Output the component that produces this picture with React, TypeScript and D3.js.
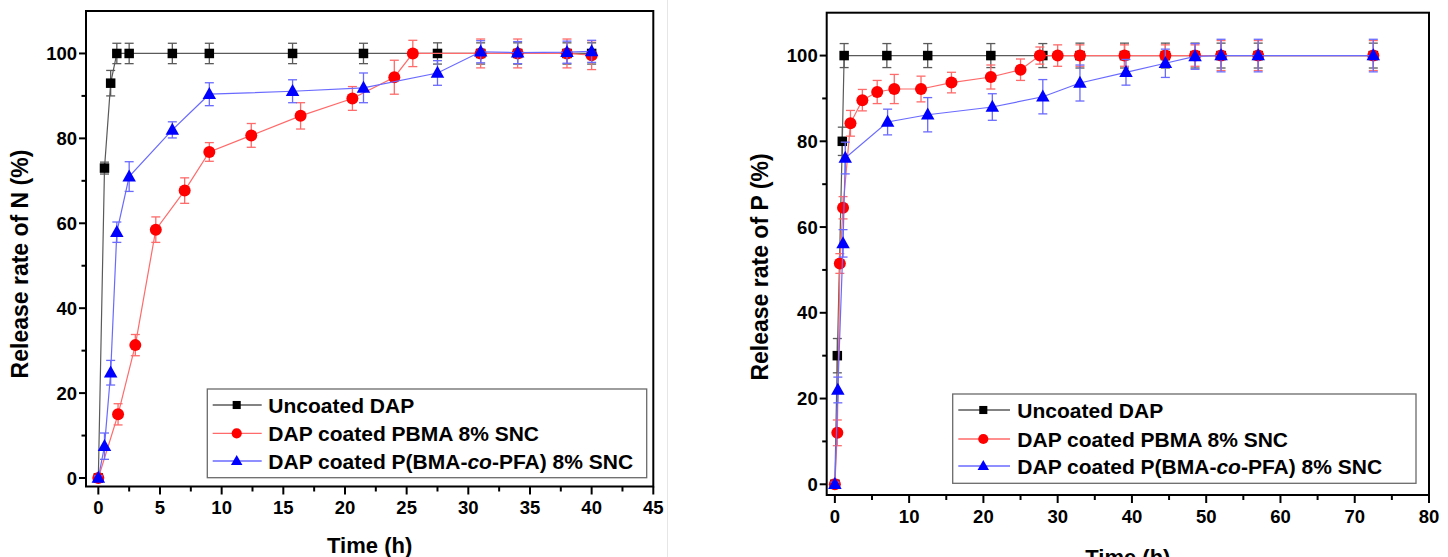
import React from 'react';
import * as d3 from 'd3';

// ---------- Data ----------
const legendLabels = ['Uncoated DAP', 'DAP coated PBMA 8% SNC', 'DAP coated P(BMA-co-PFA) 8% SNC'];

// Left panel: release of N
const nTimeUncoated = [0, 0.5, 1, 1.5, 2.5, 6, 9, 15.75, 21.5, 27.5, 31, 34, 38, 40];
const nUncoated = [0, 73, 93, 100, 100, 100, 100, 100, 100, 100, 100, 100, 100, 100];
const nUncoatedErr = [0.5, 1.4, 3, 2.4, 2.4, 2.4, 2.4, 2.4, 2.4, 2.5, 2.5, 2.5, 2.5, 2.5];

const nTimePBMA = [0, 1.6, 3, 4.66, 7, 9, 12.4, 16.4, 20.6, 24, 25.5, 31, 34, 38, 40];
const nPBMA = [0, 15, 31.3, 58.5, 67.7, 76.8, 80.7, 85.3, 89.4, 94.4, 100, 100, 100, 100, 99.6];
const nPBMAErr = [0.5, 2.5, 2.5, 3, 3, 2.2, 2.8, 3.1, 2.8, 4, 3.1, 3.4, 3.4, 3.4, 3.4];

const nTimeCo = [0, 0.5, 1, 1.5, 2.5, 6, 9, 15.75, 21.5, 27.5, 31, 34, 38, 40];
const nCo = [0, 7.5, 24.8, 57.9, 71, 82, 90.4, 91.1, 91.9, 95.4, 100.4, 100.2, 100.3, 100.5];
const nCoErr = [0.5, 3.1, 2.9, 2.4, 3.5, 1.9, 2.7, 2.7, 3.5, 2.9, 2.6, 2.6, 2.6, 2.6];

// Right panel: release of P
const pTimeUncoated = [0, 0.33, 1, 1.25, 7, 12.5, 21, 28, 33, 39, 44.5, 48.5, 52, 57, 72.5];
const pUncoated = [0, 30, 80, 100, 100, 100, 100, 100, 100, 100, 100, 100, 100, 100, 100];
const pUncoatedErr = [0.5, 4, 3.3, 2.8, 2.8, 2.8, 2.8, 2.8, 2.9, 2.9, 2.9, 2.9, 2.9, 2.9, 2.9];

const pTimePBMA = [0, 0.33, 0.67, 1.1, 2.1, 3.7, 5.7, 8, 11.6, 15.7, 21, 25, 27.6, 30, 33, 39, 44.5, 48.5, 52, 57, 72.5];
const pPBMA = [0, 12, 51.5, 64.5, 84.2, 89.6, 91.5, 92.2, 92.2, 93.7, 95, 96.7, 100, 100, 100, 100, 100, 100, 100, 100, 100];
const pPBMAErr = [0.5, 3, 2.3, 2.6, 3, 2.5, 2.7, 3.4, 3, 2.4, 2.8, 2.5, 2, 2.5, 2.5, 2.5, 2.5, 2.5, 3.5, 3.5, 3.5];

const pTimeCo = [0, 0.4, 1.1, 1.4, 7.1, 12.5, 21.2, 28, 33, 39.2, 44.5, 48.5, 52, 57, 72.5];
const pCo = [0, 22, 56.2, 76.1, 84.5, 86.2, 88, 90.4, 93.6, 96.1, 98.2, 99.8, 100, 100, 100];
const pCoErr = [0.5, 3, 3.2, 3.7, 3, 4, 3.1, 4, 4.2, 3, 3.3, 3, 3.8, 3.8, 3.8];

const nYTicks = [0, 20, 40, 60, 80, 100];
const nXTicks = [0, 5, 10, 15, 20, 25, 30, 35, 40, 45];
const pYTicks = [0, 20, 40, 60, 80, 100];
const pXTicks = [0, 10, 20, 30, 40, 50, 60, 70, 80];

// ---------- Styles ----------
const FONT = '"Liberation Sans", Arial, Helvetica, sans-serif';
const kinds = ['square', 'circle', 'triangle'] as const;
const markerColors = ['#000000', '#ff0000', '#0000ff'];
const lineColors = ['#5a5a5a', '#ff6a6a', '#6a6aff'];

type PanelCfg = {
  left: number; right: number; top: number; bottom: number;
  xDomain: [number, number]; yDomain: [number, number];
  xTicks: number[]; xMinorStep: number; yTicks: number[]; yMinorStep: number;
  yTitle: string; yTitleX: number; yTitleY: number; xTitleY: number;
  series: { t: number[]; v: number[]; e: number[] }[];
  legend: { x0: number; x1: number; y0: number; y1: number; rows: number[]; lx0: number; lx1: number; mx: number; tx: number };
};

function Marker({ kind, x, y, color, scale = 1 }: { kind: string; x: number; y: number; color: string; scale?: number }) {
  if (kind === 'square') {
    const s = 9.5 * scale;
    return <rect x={x - s / 2} y={y - s / 2} width={s} height={s} fill={color} />;
  }
  if (kind === 'circle') {
    return <circle cx={x} cy={y} r={6 * scale} fill={color} />;
  }
  const w = 13.5 * scale, h = 12 * scale;
  const p = d3.path();
  p.moveTo(x, y - h * 0.6);
  p.lineTo(x + w / 2, y + h * 0.4);
  p.lineTo(x - w / 2, y + h * 0.4);
  p.closePath();
  return <path d={p.toString()} fill={color} />;
}

function Panel({ cfg }: { cfg: PanelCfg }) {
  const x = d3.scaleLinear().domain(cfg.xDomain).range([cfg.left, cfg.right]);
  const y = d3.scaleLinear().domain(cfg.yDomain).range([cfg.bottom, cfg.top]);
  const xMinor = d3.range(0, cfg.xDomain[1] + 0.001, cfg.xMinorStep).filter((v) => !cfg.xTicks.includes(v));
  const yMinor = d3.range(0, 105, cfg.yMinorStep).filter((v) => !cfg.yTicks.includes(v));
  const line = d3.line<[number, number]>().x((d) => x(d[0])).y((d) => y(d[1]));
  const L = cfg.legend;
  return (
    <g>
      {cfg.series.map((s, si) => {
        const pts = s.t.map((t, i) => [t, s.v[i]] as [number, number]);
        return (
          <g key={si}>
            <path d={line(pts) || ''} fill="none" stroke={lineColors[si]} strokeWidth={1.2} />
            {s.t.map((t, i) => {
              const cx = x(t);
              const yt = y(s.v[i] + s.e[i]);
              const yb = y(s.v[i] - s.e[i]);
              return (
                <g key={i} stroke={lineColors[si]} strokeWidth={1.3}>
                  <line x1={cx} x2={cx} y1={yt} y2={yb} />
                  <line x1={cx - 4.5} x2={cx + 4.5} y1={yt} y2={yt} />
                  <line x1={cx - 4.5} x2={cx + 4.5} y1={yb} y2={yb} />
                </g>
              );
            })}
            {s.t.map((t, i) => (
              <Marker key={'m' + i} kind={kinds[si]} x={x(t)} y={y(s.v[i])} color={markerColors[si]} />
            ))}
          </g>
        );
      })}
      <rect x={cfg.left} y={cfg.top} width={cfg.right - cfg.left} height={cfg.bottom - cfg.top} fill="none" stroke="#000" strokeWidth={2} />
      {cfg.yTicks.map((v) => (
        <g key={'yt' + v}>
          <line x1={cfg.left - 7} x2={cfg.left} y1={y(v)} y2={y(v)} stroke="#000" strokeWidth={2} />
          <text x={cfg.left - 9} y={y(v)} dy="0.36em" textAnchor="end" fontFamily={FONT} fontWeight="bold" fontSize={18.5}>{v}</text>
        </g>
      ))}
      {yMinor.map((v) => (
        <line key={'ym' + v} x1={cfg.left - 4.5} x2={cfg.left} y1={y(v)} y2={y(v)} stroke="#000" strokeWidth={2} />
      ))}
      {cfg.xTicks.map((v) => (
        <g key={'xt' + v}>
          <line x1={x(v)} x2={x(v)} y1={cfg.bottom} y2={cfg.bottom + 8} stroke="#000" strokeWidth={2} />
          <text x={x(v)} y={cfg.bottom + 21} dy="0.36em" textAnchor="middle" fontFamily={FONT} fontWeight="bold" fontSize={18.5}>{v}</text>
        </g>
      ))}
      {xMinor.map((v) => (
        <line key={'xm' + v} x1={x(v)} x2={x(v)} y1={cfg.bottom} y2={cfg.bottom + 5} stroke="#000" strokeWidth={2} />
      ))}
      <text transform={`translate(${cfg.yTitleX},${cfg.yTitleY}) rotate(-90)`} textAnchor="middle" fontFamily={FONT} fontWeight="bold" fontSize={23}>{cfg.yTitle}</text>
      <text x={(cfg.left + cfg.right) / 2} y={cfg.xTitleY} textAnchor="middle" fontFamily={FONT} fontWeight="bold" fontSize={22}>Time (h)</text>
      <rect x={L.x0} y={L.y0} width={L.x1 - L.x0} height={L.y1 - L.y0} fill="#fff" stroke="#6a6a6a" strokeWidth={1.3} />
      {legendLabels.map((lab, i) => (
        <g key={'lg' + i}>
          <line x1={L.lx0} x2={L.lx1} y1={L.rows[i]} y2={L.rows[i]} stroke={lineColors[i]} strokeWidth={1.3} />
          <Marker kind={kinds[i]} x={L.mx} y={L.rows[i]} color={markerColors[i]} scale={0.85} />
          <text x={L.tx} y={L.rows[i]} dy="0.36em" fontFamily={FONT} fontWeight="bold" fontSize={21}>
            {i === 2 ? (
              <>
                {'DAP coated P(BMA-'}
                <tspan fontStyle="italic">co</tspan>
                {'-PFA) 8% SNC'}
              </>
            ) : lab}
          </text>
        </g>
      ))}
    </g>
  );
}

const leftCfg: PanelCfg = {
  left: 86, right: 653.3, top: 11, bottom: 486.5,
  xDomain: [-1, 45], yDomain: [-2, 110],
  xTicks: nXTicks, xMinorStep: 2.5, yTicks: nYTicks, yMinorStep: 10,
  yTitle: 'Release rate of N (%)', yTitleX: 28, yTitleY: 264, xTitleY: 553,
  series: [
    { t: nTimeUncoated, v: nUncoated, e: nUncoatedErr },
    { t: nTimePBMA, v: nPBMA, e: nPBMAErr },
    { t: nTimeCo, v: nCo, e: nCoErr },
  ],
  legend: { x0: 207.3, x1: 646.7, y0: 389, y1: 477.7, rows: [405, 433.3, 461], lx0: 212.7, lx1: 261.7, mx: 236.7, tx: 268.3 },
};

const rightCfg: PanelCfg = {
  left: 826.7, right: 1429, top: 12.7, bottom: 495,
  xDomain: [-1.1, 80], yDomain: [-2.5, 110],
  xTicks: pXTicks, xMinorStep: 5, yTicks: pYTicks, yMinorStep: 10,
  yTitle: 'Release rate of P (%)', yTitleX: 768, yTitleY: 267, xTitleY: 565,
  series: [
    { t: pTimeUncoated, v: pUncoated, e: pUncoatedErr },
    { t: pTimePBMA, v: pPBMA, e: pPBMAErr },
    { t: pTimeCo, v: pCo, e: pCoErr },
  ],
  legend: { x0: 952.7, x1: 1416, y0: 394, y1: 483.3, rows: [410, 439, 466], lx0: 958.3, lx1: 1010, mx: 983.3, tx: 1017.3 },
};

export default function App() {
  return (
    <svg width={1448} height={557} style={{ position: 'absolute', left: 0, top: 0, background: '#fff' }}>
      <rect x={0} y={0} width={1448} height={557} fill="#fff" />
      <line x1={667.5} x2={667.5} y1={0} y2={557} stroke="#e6e6e6" strokeWidth={1} />
      <Panel cfg={leftCfg} />
      <Panel cfg={rightCfg} />
    </svg>
  );
}
